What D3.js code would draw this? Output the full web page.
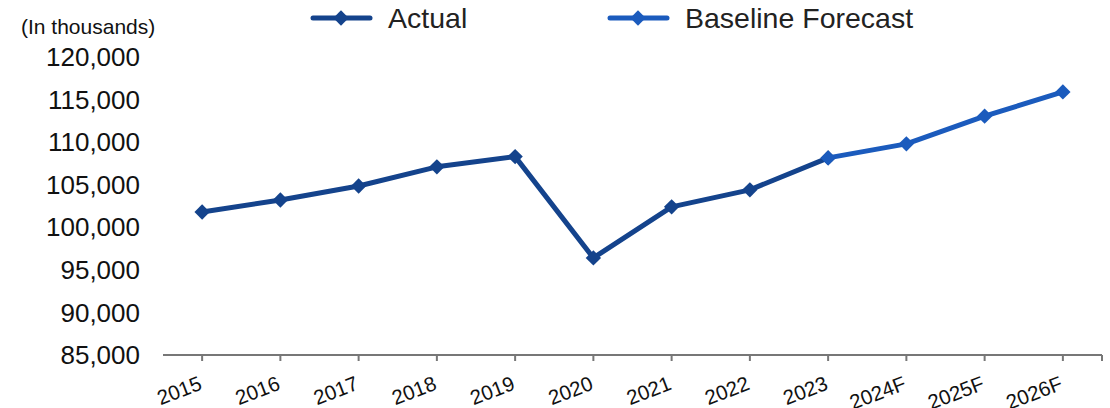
<!DOCTYPE html>
<html>
<head>
<meta charset="utf-8">
<script src="https://cdn.jsdelivr.net/npm/d3@7"></script>
<style>
  body { margin: 0; background: #fff; }
  svg { font-family: "Liberation Sans", Arial, sans-serif; }
</style>
</head>
<body>
<svg width="1110" height="408"></svg>
<script>
(function (d3) {
  'use strict';

  const years = ['2015', '2016', '2017', '2018', '2019', '2020', '2021', '2022', '2023', '2024F', '2025F', '2026F'];
  const actualYears = ['2015', '2016', '2017', '2018', '2019', '2020', '2021', '2022', '2023'];
  const actualValues = [101800, 103200, 104850, 107100, 108300, 96400, 102400, 104400, 108150];
  const forecastYears = ['2023', '2024F', '2025F', '2026F'];
  const forecastValues = [108150, 109800, 113050, 115900];
  const yTicks = [85000, 90000, 95000, 100000, 105000, 110000, 115000, 120000];

  const actualColor = '#14438c';
  const forecastColor = '#1b5bbd';

  const svg = d3.select('svg');
  const margin = { top: 57, right: 8, bottom: 53, left: 163 };
  const width = 1110;
  const height = 408;

  const x = d3.scaleBand()
    .domain(years)
    .range([margin.left, width - margin.right]);

  const y = d3.scaleLinear()
    .domain([85000, 120000])
    .range([height - margin.bottom, margin.top]);

  const cx = d => x(d) + x.bandwidth() / 2;

  // y labels (no axis line)
  svg.append('g').selectAll('text').data(yTicks)
    .enter().append('text')
      .attr('x', 140)
      .attr('y', d => y(d))
      .attr('dy', '0.35em')
      .attr('text-anchor', 'end')
      .attr('font-size', 26)
      .attr('fill', '#111')
      .text(d => d3.format(',')(d));

  svg.append('text')
    .attr('x', 21)
    .attr('y', 34)
    .attr('font-size', 21)
    .attr('fill', '#111')
    .text('(In thousands)');

  // x axis
  const axisY = y(85000);
  const xAxis = svg.append('g');
  xAxis.append('line')
    .attr('x1', margin.left).attr('x2', width - margin.right)
    .attr('y1', axisY).attr('y2', axisY)
    .attr('stroke', '#777').attr('stroke-width', 2);
  xAxis.selectAll('line.tick').data(years)
    .enter().append('line')
      .attr('class', 'tick')
      .attr('x1', d => cx(d)).attr('x2', d => cx(d))
      .attr('y1', axisY).attr('y2', axisY + 6)
      .attr('stroke', '#777').attr('stroke-width', 2);
  xAxis.append('line')
    .attr('x1', width - margin.right).attr('x2', width - margin.right)
    .attr('y1', axisY).attr('y2', axisY + 6)
    .attr('stroke', '#777').attr('stroke-width', 2);
  xAxis.selectAll('text').data(years)
    .enter().append('text')
      .attr('transform', d => `translate(${cx(d) + 1},${axisY + 34}) rotate(-21)`)
      .attr('text-anchor', 'end')
      .attr('font-size', 20.5)
      .attr('fill', '#111')
      .text(d => d);

  const line = d3.line().x(d => cx(d[0])).y(d => y(d[1]));
  const diamond = d3.symbol().type(d3.symbolDiamond2).size(150);

  function drawSeries(cats, vals, color) {
    const pts = d3.zip(cats, vals);
    svg.append('path')
      .datum(pts)
      .attr('d', line)
      .attr('fill', 'none')
      .attr('stroke', color)
      .attr('stroke-width', 5)
      .attr('stroke-linejoin', 'round');
    svg.append('g').selectAll('path').data(pts)
      .enter().append('path')
        .attr('transform', d => `translate(${cx(d[0])},${y(d[1])})`)
        .attr('d', diamond)
        .attr('fill', color);
  }

  drawSeries(actualYears, actualValues, actualColor);
  drawSeries(forecastYears, forecastValues, forecastColor);

  // legend
  const legend = [
    { name: 'Actual', color: actualColor, x: 313 },
    { name: 'Baseline Forecast', color: forecastColor, x: 610 }
  ];
  const lg = svg.append('g').selectAll('g').data(legend)
    .enter().append('g')
      .attr('transform', d => `translate(${d.x},18)`);
  lg.append('line')
    .attr('x1', 0).attr('x2', 57)
    .attr('stroke', d => d.color)
    .attr('stroke-width', 5)
    .attr('stroke-linecap', 'round');
  lg.append('path')
    .attr('transform', 'translate(28,0)')
    .attr('d', diamond)
    .attr('fill', d => d.color);
  lg.append('text')
    .attr('x', 75)
    .attr('dy', '0.35em')
    .attr('font-size', 28.5)
    .attr('fill', '#222')
    .text(d => d.name);

}(d3));
</script>
</body>
</html>
